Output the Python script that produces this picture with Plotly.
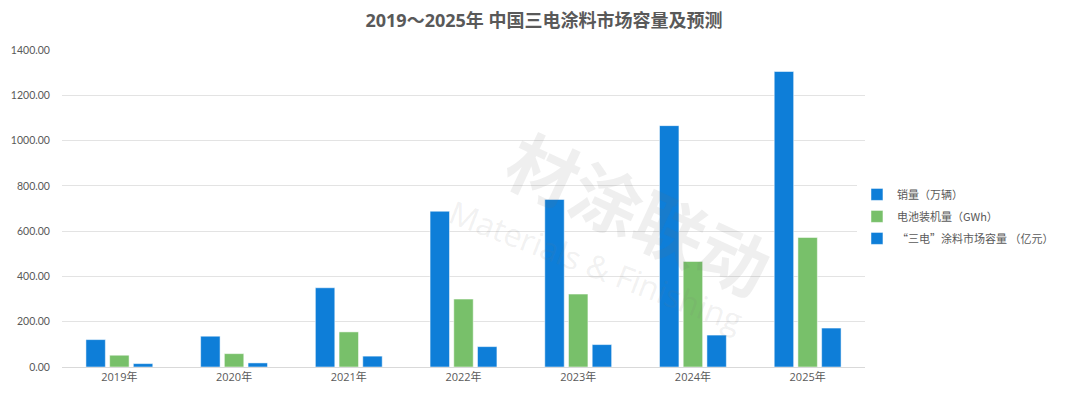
import plotly.graph_objects as go

years = ["2019年", "2020年", "2021年", "2022年", "2023年", "2024年", "2025年"]
sales = [121, 136, 350, 688, 740, 1066, 1305]          # 销量（万辆）
battery = [52, 59, 155, 300, 322, 466, 572]            # 电池装机量（GWh）
coating = [15, 18, 48, 90, 99, 141, 172]               # “三电”涂料市场容量（亿元）
names = ["销量（万辆）", "电池装机量（GWh）", "“三电”涂料市场容量 （亿元）"]
y_ticks = [0, 200, 400, 600, 800, 1000, 1200, 1400]

BLUE = "#0E7ED8"
GREEN = "#78C06A"
GRAY = "#595959"
FONT = "Open Sans, Noto Sans CJK SC, sans-serif"

fig = go.Figure()
for i, (name, vals, col) in enumerate(zip(names, [sales, battery, coating], [BLUE, GREEN, BLUE])):
    fig.add_trace(go.Bar(x=years, y=vals, name=name, legendgroup=f"g{i}",
                         marker=dict(color=col, line=dict(color="rgba(255,255,255,0.5)", width=1))))

# watermark
fig.add_annotation(text="材涂联动", xref="paper", yref="paper", x=0.72, y=0.49,
                   xanchor="center", yanchor="middle",
                   showarrow=False, textangle=25,
                   font=dict(size=70, color="rgba(110,110,110,0.11)", family="Noto Sans CJK SC", weight="bold"))
fig.add_annotation(text="Materials & Finishing", xref="paper", yref="paper", x=0.665, y=0.32,
                   xanchor="center", yanchor="middle",
                   showarrow=False, textangle=21,
                   font=dict(size=32, color="rgba(120,120,120,0.11)", family="Open Sans"))

fig.update_layout(
    width=1072, height=391,
    margin=dict(l=54, r=215, t=42, b=32),
    plot_bgcolor="white", paper_bgcolor="white",
    barmode="group", bargap=0.38, bargroupgap=0.18,
    font=dict(family=FONT, size=11, color=GRAY),
    title=dict(text="<b>2019～2025年 中国三电涂料市场容量及预测</b>", x=0.5, xanchor="center",
               y=0.968, yanchor="middle",
               font=dict(size=18, color=GRAY, family="Open Sans, Noto Sans CJK SC")),
    legend=dict(x=0.99, xanchor="left", y=0.475, yanchor="middle", tracegroupgap=3,
                traceorder="grouped",
                font=dict(size=11, color=GRAY, family="Noto Sans CJK SC"), itemwidth=30),
    xaxis=dict(showgrid=False, showline=True, linecolor="#D9D9D9", linewidth=1,
               ticks="", tickfont=dict(size=11, color=GRAY), automargin=False),
    yaxis=dict(range=[0, 1400], tickvals=y_ticks, tickformat=".2f",
               showgrid=True, gridcolor="#E3E3E3", gridwidth=1, zeroline=False,
               ticks="outside", ticklen=9, tickcolor="rgba(0,0,0,0)", automargin=False,
               tickfont=dict(size=10.5, color=GRAY, family="Lato")),
)

fig.write_html("out.html")
